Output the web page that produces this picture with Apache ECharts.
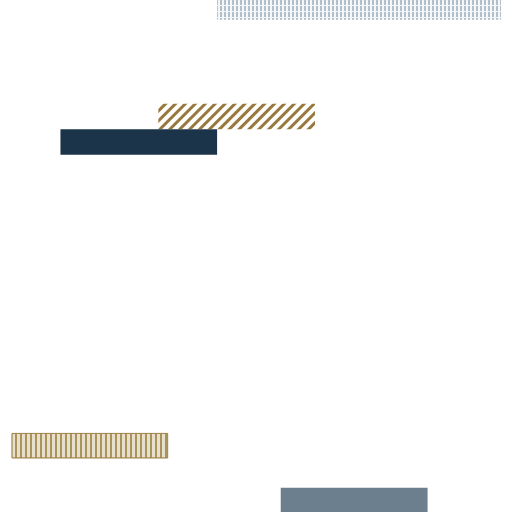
<!DOCTYPE html>
<html>
<head>
<meta charset="utf-8">
<script src="https://cdn.jsdelivr.net/npm/echarts@6/dist/echarts.min.js"></script>
<style>html,body{margin:0;padding:0;background:#fff}#c{width:512px;height:512px}</style>
</head>
<body>
<div id="c"></div>
<script>
const categories = ['Task 1','Task 2','Task 3','Task 4','Task 5','Task 6','Task 7','Task 8','Task 9','Task 10'];
// upper lane of each row
const upperStart = [42, '-', 30, '-', '-', '-', '-', '-', 0, 55];
const upperDuration = [58, '-', 32, '-', '-', '-', '-', '-', 32, 30];
// lower lane of each row
const lowerStart = ['-', '-', 10, '-', '-', '-', '-', '-', '-', '-'];
const lowerDuration = ['-', '-', 32, '-', '-', '-', '-', '-', '-', '-'];

const styleDots = {
  color: '#f4f6f8',
  decal: { symbol: 'rect', color: '#b0bfca', dashArrayX: [2, 2], dashArrayY: [5, 1], symbolSize: 1 }
};
const styleHatch = {
  color: '#ffffff',
  decal: { symbol: 'rect', color: '#98793d', dashArrayX: [1, 0], dashArrayY: [2.5, 4], rotation: -Math.PI / 4 }
};
const styleStripes = {
  color: '#e8e0cf', borderColor: 'rgba(155,122,60,0.65)', borderWidth: 1,
  decal: { symbol: 'rect', color: '#ab945c', dashArrayX: [1.5, 2.5], dashArrayY: [1, 0] }
};
const styleNavy = { color: '#1b3449' };
const styleSlate = { color: '#6b7f8e' };
const upperStyles = { 0: styleDots, 2: styleHatch, 8: styleStripes, 9: styleSlate };
const lowerStyles = { 2: styleNavy };

function build(values, styles) {
  return values.map((v, i) => (v === '-' ? '-' : { value: v, itemStyle: styles[i] || {} }));
}

const chart = echarts.init(document.getElementById('c'), null, { renderer: 'canvas' });
chart.setOption({
  animation: false,
  grid: { left: 11.5, right: 11, top: -7.8, bottom: -28.7, containLabel: false, outerBoundsMode: 'none' },
  xAxis: { type: 'value', min: 0, max: 100, show: false },
  yAxis: { type: 'category', data: categories, inverse: true, show: false },
  series: [
    { type: 'bar', stack: 'upper', barWidth: 25.5, barGap: '0%', data: upperStart,
      itemStyle: { color: 'transparent' }, silent: true },
    { type: 'bar', stack: 'upper', barWidth: 25.5, barGap: '0%', data: build(upperDuration, upperStyles) },
    { type: 'bar', stack: 'lower', barWidth: 25.5, barGap: '0%', data: lowerStart,
      itemStyle: { color: 'transparent' }, silent: true },
    { type: 'bar', stack: 'lower', barWidth: 25.5, barGap: '0%', data: build(lowerDuration, lowerStyles) }
  ]
});
</script>
</body>
</html>
